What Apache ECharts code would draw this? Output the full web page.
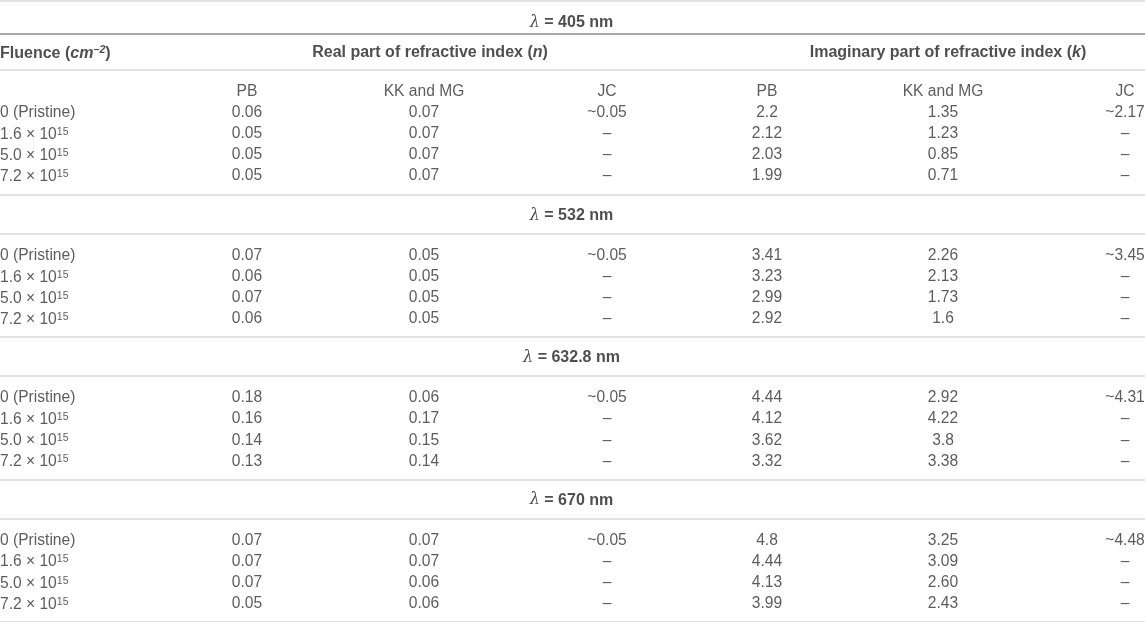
<!DOCTYPE html>
<html>
<head>
<meta charset="utf-8">
<title>Refractive index table</title>
<script src="https://cdn.jsdelivr.net/npm/echarts@6/dist/echarts.min.js"></script>
<style>
  html, body { margin: 0; padding: 0; background: #fff; }
  #main { width: 1145px; height: 622px; }
</style>
</head>
<body>
<div id="main"></div>
<script>
// table content
var wavelengths = ['405', '532', '632.8', '670'];
var fluence = ['0 (Pristine)', '1.6 × 10{sup|15}', '5.0 × 10{sup|15}', '7.2 × 10{sup|15}'];
var methods = ['PB', 'KK and MG', 'JC', 'PB', 'KK and MG', 'JC'];
var realPB = [
    ['0.06', '0.05', '0.05', '0.05'],
    ['0.07', '0.06', '0.07', '0.06'],
    ['0.18', '0.16', '0.14', '0.13'],
    ['0.07', '0.07', '0.07', '0.05']
];
var realKK = [
    ['0.07', '0.07', '0.07', '0.07'],
    ['0.05', '0.05', '0.05', '0.05'],
    ['0.06', '0.17', '0.15', '0.14'],
    ['0.07', '0.07', '0.06', '0.06']
];
var realJC = ['~0.05', '~0.05', '~0.05', '~0.05'];
var imagPB = [
    ['2.2', '2.12', '2.03', '1.99'],
    ['3.41', '3.23', '2.99', '2.92'],
    ['4.44', '4.12', '3.62', '3.32'],
    ['4.8', '4.44', '4.13', '3.99']
];
var imagKK = [
    ['1.35', '1.23', '0.85', '0.71'],
    ['2.26', '2.13', '1.73', '1.6'],
    ['2.92', '4.22', '3.8', '3.38'],
    ['3.25', '3.09', '2.60', '2.43']
];
var imagJC = ['~2.17', '~3.45', '~4.31', '~4.48'];

// layout (pixels on the hidden axes)
var W = 1145, H = 622;
var colX = [0, 247, 424, 607, 767, 943, 1125];
var groupX = [430, 948];
var rowGap = 21.2;
var sectionH = 142.4;
var textDrop = 1.5;   // middle-align of the font sits a bit high

var textColor = '#333';
var headColor = '#222';
var lightLine = '#d9d9d9';
var darkLine = '#8c8c8c';

function sectionTop(k) {
    return k === 0 ? 1 : 194.5 + (k - 1) * sectionH;
}
function headerY(k) {
    return k === 0 ? 21 : sectionTop(k) + 19.5;
}
function firstRowY(k) {
    return k === 0 ? 111 : sectionTop(k) + 59.5;
}

var cells = [];
var rules = [];

function addCell(x, y, text, opt) {
    opt = opt || {};
    cells.push({
        value: [x, y + textDrop + (opt.drop || 0)],
        label: {
            formatter: text,
            align: opt.align || 'center',
            fontWeight: opt.bold ? 'bold' : 'normal',
            fontSize: opt.bold ? 16 : 15.6,
            color: opt.bold ? headColor : textColor
        }
    });
}

// column header block
addCell(colX[0], 51, '{b|Fluence (}{bi|cm}{bsup|−2}{b|)}', { align: 'left', bold: true, drop: 1 });
addCell(groupX[0], 51, '{b|Real part of refractive index (}{bi|n}{b|)}', { bold: true });
addCell(groupX[1], 51, '{b|Imaginary part of refractive index (}{bi|k}{b|)}', { bold: true });
for (var m = 0; m < methods.length; m++) {
    addCell(colX[m + 1], 90, methods[m]);
}

for (var k = 0; k < wavelengths.length; k++) {
    addCell(W / 2 - 1, headerY(k), '{lam|λ}{b| = ' + wavelengths[k] + ' nm}', { bold: true });
    if (k === 0) {
        rules.push({ y: 1, color: lightLine });
        rules.push({ y: 34, color: darkLine });
        rules.push({ y: 70, color: lightLine });
    } else {
        rules.push({ y: sectionTop(k) + 39, color: lightLine });
    }
    rules.push({ y: sectionTop(k + 1), color: lightLine });

    for (var i = 0; i < fluence.length; i++) {
        var y = firstRowY(k) + i * rowGap;
        var row = [
            realPB[k][i], realKK[k][i], i === 0 ? realJC[k] : '–',
            imagPB[k][i], imagKK[k][i], i === 0 ? imagJC[k] : '–'
        ];
        addCell(colX[0], y, fluence[i], { align: 'left', drop: i === 0 ? 0 : 0.5 });
        for (var c = 0; c < row.length; c++) {
            addCell(colX[c + 1], y, row[c]);
        }
    }
}

var chart = echarts.init(document.getElementById('main'));

chart.setOption({
    animation: false,
    backgroundColor: '#fff',
    textStyle: { fontFamily: 'Liberation Sans, Arial, sans-serif' },
    grid: { left: 0, right: 0, top: 0, bottom: 0 },
    xAxis: { type: 'value', min: 0, max: W, show: false },
    yAxis: { type: 'value', min: 0, max: H, inverse: true, show: false },
    series: [{
        type: 'scatter',
        symbolSize: 0,
        silent: true,
        data: cells,
        label: {
            show: true,
            position: 'inside',
            verticalAlign: 'middle',
            fontSize: 15.6,
            fontFamily: 'Liberation Sans, Arial, sans-serif',
            rich: {
                sup: { fontSize: 10.5, color: textColor, verticalAlign: 'top', lineHeight: 12, padding: [0, 0, 6, 0] },
                b: { fontSize: 16, fontWeight: 'bold', color: headColor },
                bi: { fontSize: 16, fontWeight: 'bold', fontStyle: 'italic', color: headColor },
                bsup: { fontSize: 10.5, fontWeight: 'bold', fontStyle: 'italic', color: headColor, padding: [0, 0, 6, 0] },
                lam: { fontSize: 16, fontWeight: 'normal', fontStyle: 'italic', color: headColor, fontFamily: 'DejaVu Serif, serif' }
            }
        },
        markLine: {
            silent: true,
            symbol: 'none',
            label: { show: false },
            data: rules.map(function (r) {
                return { yAxis: r.y, lineStyle: { color: r.color, width: 1.6, type: 'solid' } };
            })
        }
    }]
});
</script>
</body>
</html>
